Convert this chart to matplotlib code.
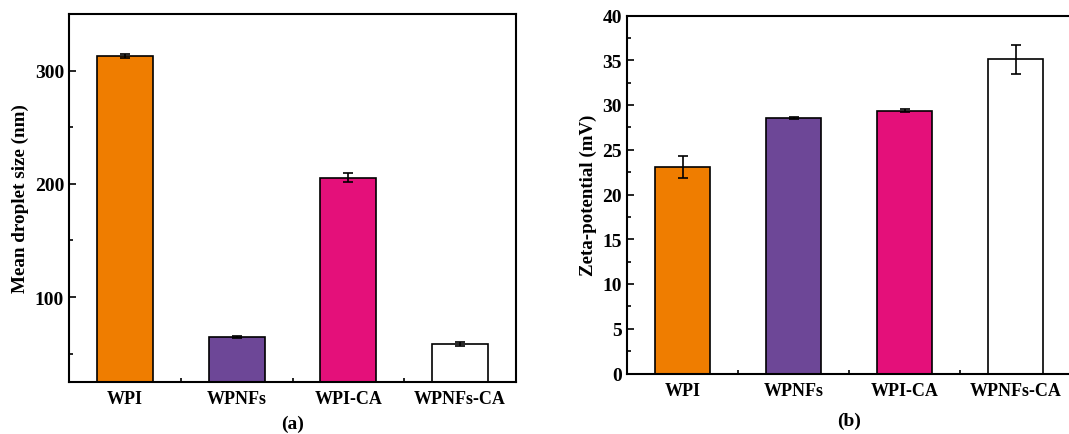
import matplotlib.pyplot as plt
import numpy as np
from matplotlib.ticker import MultipleLocator

plt.rcParams['font.family'] = ['Liberation Serif', 'DejaVu Serif']
plt.rcParams['font.weight'] = 'bold'

samples = ['WPI', 'WPNFs', 'WPI-CA', 'WPNFs-CA']
colors = ['#EF7D00', '#6D4797', '#E4107A', '#FFFFFF']

droplet_size = [313, 65, 205.5, 58.5]
droplet_err = [1.5, 1.0, 4.0, 1.5]

zeta = [23.05, 28.5, 29.35, 35.1]
zeta_err = [1.2, 0.12, 0.15, 1.65]

fig = plt.figure(figsize=(10.69, 4.35), dpi=100)
W, H = 1069, 435
ax1 = fig.add_axes([69 / W, 1 - 383 / H, (516 - 69) / W, (383 - 15) / H])
ax2 = fig.add_axes([627 / W, 1 - 374.5 / H, (1071 - 627) / W, (374.5 - 16.5) / H])

x = np.arange(1, 5)


def draw(ax, vals, errs):
    ax.bar(x, vals, width=0.5, color=colors, edgecolor='black', linewidth=1.2, zorder=2)
    ax.errorbar(x, vals, yerr=errs, fmt='none', ecolor='black', elinewidth=1.2,
                capsize=3.5, capthick=1.2, zorder=3)
    ax.set_xlim(0.5, 4.5)
    ax.set_xticks(x)
    ax.set_xticklabels(samples)
    ax.xaxis.set_minor_locator(MultipleLocator(0.5))
    ax.tick_params(which='both', direction='in', width=1.2)
    ax.tick_params(axis='x', labelsize=13)
    ax.tick_params(axis='y', labelsize=14)
    ax.tick_params(which='major', length=5)
    ax.tick_params(which='minor', length=3)
    ax.tick_params(axis='x', which='major', pad=6)
    for s in ax.spines.values():
        s.set_linewidth(1.5)


draw(ax1, droplet_size, droplet_err)
ax1.set_ylim(25, 350)
ax1.set_yticks([100, 200, 300])
ax1.yaxis.set_minor_locator(MultipleLocator(50))
ax1.set_ylabel('Mean droplet size (nm)', fontsize=13.8, fontweight='bold', labelpad=4)
ax1.set_xlabel('(a)', fontsize=14, fontweight='bold', labelpad=5)

draw(ax2, zeta, zeta_err)
ax2.set_ylim(0, 40)
ax2.yaxis.set_major_locator(MultipleLocator(5))
ax2.yaxis.set_minor_locator(MultipleLocator(2.5))
ax2.set_ylabel('Zeta-potential (mV)', fontsize=13.6, fontweight='bold', labelpad=4)
ax2.set_xlabel('(b)', fontsize=14, fontweight='bold', labelpad=9)

for ax in (ax1, ax2):
    for lab in ax.get_xticklabels() + ax.get_yticklabels():
        lab.set_fontweight('bold')

fig.savefig('out.png', dpi=100)
